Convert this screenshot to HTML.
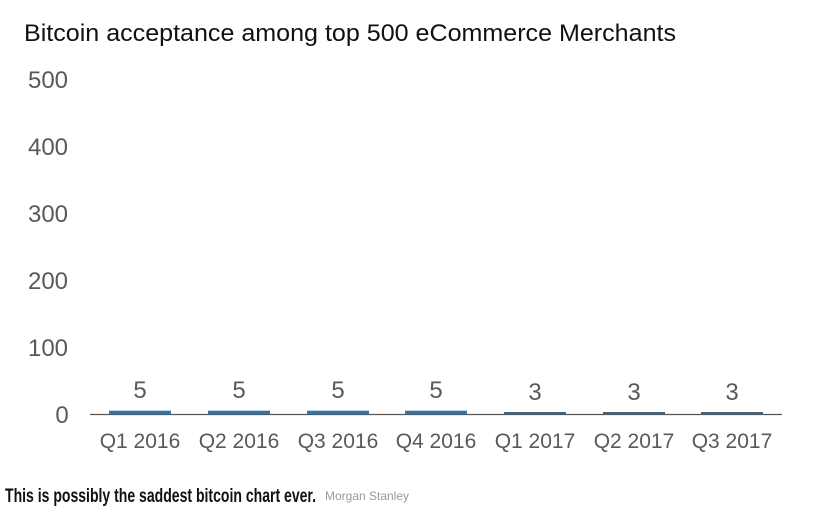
<!DOCTYPE html>
<html><head><meta charset="utf-8"><style>
body{margin:0;width:834px;height:513px;background:#fff;overflow:hidden;font-family:"Liberation Sans",sans-serif;}
</style></head><body>
<svg width="834" height="513" xmlns="http://www.w3.org/2000/svg" style="position:absolute;left:0;top:0">
<text x="24" y="41" font-size="24" fill="#111" font-family="Liberation Sans" textLength="652" lengthAdjust="spacingAndGlyphs">Bitcoin acceptance among top 500 eCommerce Merchants</text>
<g font-size="24" fill="#595959" text-anchor="middle" font-family="Liberation Sans">
<text x="48" y="88">500</text>
<text x="48" y="155">400</text>
<text x="48" y="222">300</text>
<text x="48" y="289">200</text>
<text x="48" y="356">100</text>
<text x="62" y="423">0</text>
</g>
<line x1="90" y1="414.5" x2="782" y2="414.5" stroke="#555" stroke-width="1.3"/>
<g fill="#2e75b6">
<rect x="109" y="410.7" width="62" height="3.5"/>
<rect x="208" y="410.7" width="62" height="3.5"/>
<rect x="307" y="410.7" width="62" height="3.5"/>
<rect x="405" y="410.7" width="62" height="3.5"/>
</g>
<g fill="#3f6584">
<rect x="504" y="412" width="62" height="2.2"/>
<rect x="603" y="412" width="62" height="2.2"/>
<rect x="701" y="412" width="62" height="2.2"/>
</g>
<g font-size="24" fill="#595959" text-anchor="middle">
<text x="140" y="398">5</text><text x="239" y="398">5</text><text x="338" y="398">5</text><text x="436" y="398">5</text>
<text x="535" y="400">3</text><text x="634" y="400">3</text><text x="732" y="400">3</text>
</g>
<g font-size="21" fill="#595959" text-anchor="middle">
<text x="140" y="448">Q1 2016</text><text x="239" y="448">Q2 2016</text><text x="338" y="448">Q3 2016</text><text x="436" y="448">Q4 2016</text>
<text x="535" y="448">Q1 2017</text><text x="634" y="448">Q2 2017</text><text x="732" y="448">Q3 2017</text>
</g>
<text x="5" y="502" font-size="19" font-weight="bold" fill="#111" font-family="Liberation Sans Narrow, Liberation Sans, sans-serif" textLength="311" lengthAdjust="spacingAndGlyphs">This is possibly the saddest bitcoin chart ever.</text>
<text x="325" y="500" font-size="12" fill="#999" textLength="84" lengthAdjust="spacingAndGlyphs">Morgan Stanley</text>
</svg>
</body></html>
